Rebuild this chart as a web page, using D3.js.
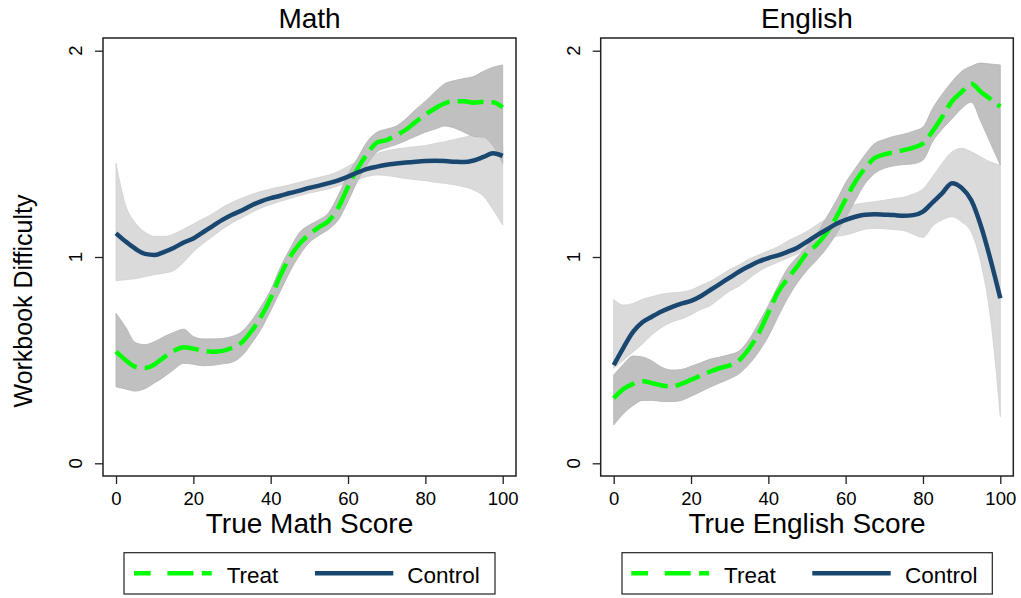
<!DOCTYPE html>
<html>
<head>
<meta charset="utf-8">
<script src="https://cdn.jsdelivr.net/npm/d3@7"></script>
<style>
  html, body { margin: 0; padding: 0; background: #fff; }
  svg { display: block; }
  text { font-family: "Liberation Sans", Arial, Helvetica, sans-serif; fill: #000; }
</style>
</head>
<body>
<svg id="chart" width="1021" height="598"></svg>
<script>
// ---- Data ----
const scores = [0,2.5,5,7.5,10,12.5,15,17.5,20,22.5,25,27.5,30,32.5,35,37.5,40,42.5,45,47.5,50,52.5,55,57.5,60,62.5,65,67.5,70,72.5,75,77.5,80,82.5,85,87.5,90,92.5,95,97.5,100];
const xTicks = [0,20,40,60,80,100];
const yTicks = [0,1,2];
const panelTitles = ["Math", "English"];
const xTitles = ["True Math Score", "True English Score"];
const yTitle = "Workbook Difficulty";
const seriesNames = ["Treat", "Control"];

// Math panel
const mathTreat   = [0.541,0.50,0.468,0.462,0.48,0.515,0.545,0.562,0.556,0.545,0.541,0.545,0.56,0.585,0.64,0.71,0.80,0.91,1.0,1.065,1.11,1.145,1.175,1.24,1.34,1.43,1.50,1.555,1.567,1.59,1.618,1.655,1.69,1.72,1.745,1.755,1.755,1.748,1.752,1.75,1.726];
const mathTreatLo = [0.371,0.36,0.35,0.362,0.39,0.42,0.455,0.485,0.48,0.473,0.475,0.482,0.49,0.52,0.58,0.65,0.74,0.835,0.93,1.01,1.07,1.105,1.135,1.18,1.27,1.37,1.45,1.51,1.53,1.545,1.565,1.585,1.605,1.62,1.635,1.625,1.605,1.585,1.58,1.54,1.454];
const mathTreatHi = [0.727,0.66,0.585,0.575,0.59,0.615,0.635,0.65,0.615,0.603,0.603,0.605,0.615,0.638,0.69,0.76,0.84,0.95,1.04,1.12,1.155,1.18,1.215,1.30,1.40,1.48,1.56,1.605,1.62,1.635,1.67,1.715,1.755,1.80,1.84,1.855,1.865,1.875,1.90,1.92,1.931];
const mathCtrl    = [1.115,1.075,1.04,1.015,1.01,1.025,1.045,1.07,1.09,1.12,1.15,1.18,1.205,1.225,1.25,1.27,1.285,1.297,1.31,1.322,1.335,1.346,1.358,1.372,1.39,1.41,1.427,1.438,1.447,1.453,1.458,1.462,1.465,1.466,1.465,1.462,1.46,1.468,1.485,1.503,1.49];
const mathCtrlLo  = [0.885,0.89,0.895,0.905,0.915,0.922,0.935,0.975,1.025,1.065,1.10,1.135,1.165,1.19,1.215,1.238,1.255,1.27,1.284,1.297,1.31,1.32,1.33,1.345,1.36,1.375,1.39,1.398,1.395,1.388,1.38,1.375,1.37,1.362,1.357,1.35,1.34,1.325,1.295,1.23,1.155];
const mathCtrlHi  = [1.454,1.25,1.165,1.12,1.10,1.10,1.112,1.135,1.16,1.185,1.21,1.24,1.265,1.285,1.303,1.318,1.33,1.34,1.35,1.362,1.375,1.386,1.397,1.415,1.44,1.465,1.485,1.502,1.515,1.523,1.53,1.535,1.54,1.55,1.559,1.57,1.58,1.59,1.575,1.56,1.543];

// English panel
const engTreat   = [0.315,0.36,0.385,0.398,0.388,0.377,0.372,0.385,0.405,0.425,0.445,0.462,0.475,0.50,0.555,0.63,0.73,0.83,0.895,0.955,1.02,1.06,1.115,1.19,1.28,1.365,1.43,1.48,1.497,1.508,1.518,1.53,1.55,1.61,1.68,1.755,1.80,1.84,1.80,1.765,1.729];
const engTreatLo = [0.186,0.24,0.28,0.305,0.305,0.30,0.299,0.305,0.325,0.347,0.37,0.39,0.41,0.435,0.48,0.54,0.615,0.71,0.80,0.875,0.935,0.985,1.04,1.11,1.19,1.275,1.355,1.405,1.43,1.442,1.448,1.452,1.47,1.56,1.62,1.67,1.72,1.75,1.655,1.55,1.446];
const engTreatHi = [0.428,0.48,0.52,0.515,0.495,0.465,0.452,0.455,0.47,0.487,0.505,0.515,0.527,0.545,0.60,0.68,0.765,0.86,0.945,1.0,1.05,1.11,1.19,1.27,1.36,1.43,1.495,1.55,1.57,1.585,1.595,1.61,1.63,1.72,1.79,1.85,1.90,1.925,1.94,1.935,1.931];
const engCtrl    = [0.476,0.56,0.637,0.685,0.712,0.737,0.757,0.774,0.787,0.81,0.84,0.87,0.90,0.93,0.955,0.978,0.995,1.008,1.025,1.045,1.074,1.105,1.132,1.16,1.18,1.195,1.205,1.207,1.205,1.203,1.20,1.203,1.22,1.265,1.31,1.358,1.335,1.275,1.15,0.985,0.80];
const engCtrlLo  = [0.46,0.50,0.54,0.58,0.625,0.66,0.685,0.70,0.72,0.745,0.765,0.80,0.835,0.86,0.895,0.93,0.955,0.975,0.995,1.015,1.04,1.066,1.085,1.10,1.107,1.12,1.135,1.139,1.137,1.133,1.128,1.11,1.095,1.15,1.18,1.195,1.17,1.12,0.97,0.70,0.226];
const engCtrlHi  = [0.794,0.767,0.775,0.795,0.808,0.82,0.826,0.83,0.84,0.862,0.882,0.91,0.94,0.962,0.99,1.01,1.03,1.05,1.078,1.10,1.125,1.155,1.185,1.215,1.24,1.255,1.262,1.268,1.275,1.283,1.29,1.305,1.33,1.39,1.455,1.51,1.527,1.51,1.485,1.46,1.446];

// ---- Styles / layout ----
const GREEN = "#00ff00", NAVY = "#1a476f";
const TREAT_CI = "#c0c0c0", CTRL_CI = "#dadada";
const FONT = "'Liberation Sans', Arial, Helvetica, sans-serif";

const svg = d3.select("#chart");
svg.append("rect").attr("width", 1021).attr("height", 598).attr("fill", "#fff");

const panels = [
  { frame: [103, 516], xr: [116, 502.7], treat: mathTreat, tLo: mathTreatLo, tHi: mathTreatHi, ctrl: mathCtrl, cLo: mathCtrlLo, cHi: mathCtrlHi, tickLabX: 82,
    legend: { box: [124, 495], tl: [134, 211.7], tt: 226.7, cl: [315, 393.3], ct: 407.3 } },
  { frame: [600.7, 1013.3], xr: [613.7, 1000.3], treat: engTreat, tLo: engTreatLo, tHi: engTreatHi, ctrl: engCtrl, cLo: engCtrlLo, cHi: engCtrlHi, tickLabX: 579.5,
    legend: { box: [622, 992.3], tl: [631.3, 709.3], tt: 724, cl: [812.3, 890.7], ct: 905 } }
];
const frameTop = 38, frameBottom = 476;

panels.forEach((p, i) => {
  const x = d3.scaleLinear().domain([0, 100]).range(p.xr);
  const y = d3.scaleLinear().domain([0, 2]).range([463.3, 50.7]);
  const g = svg.append("g");

  const area = (lo, hi) => d3.area()
    .x((d, k) => x(scores[k]))
    .y0((d, k) => y(lo[k]))
    .y1((d, k) => y(hi[k]))
    .curve(d3.curveMonotoneX)(scores);
  const line = (vals) => d3.line()
    .x((d, k) => x(scores[k]))
    .y((d, k) => y(vals[k]))
    .curve(d3.curveMonotoneX)(scores);

  // CI bands
  g.append("path").attr("d", area(p.cLo, p.cHi)).attr("fill", CTRL_CI).attr("stroke", "#d0d0d0").attr("stroke-width", 0.8);
  g.append("path").attr("d", area(p.tLo, p.tHi)).attr("fill", TREAT_CI).attr("stroke", "#b3b3b3").attr("stroke-width", 0.8);

  // Lines
  g.append("path").attr("d", line(p.treat)).attr("fill", "none").attr("stroke", GREEN)
    .attr("stroke-width", 4.5).attr("stroke-dasharray", "26,8");
  g.append("path").attr("d", line(p.ctrl)).attr("fill", "none").attr("stroke", NAVY)
    .attr("stroke-width", 4.5).attr("stroke-linejoin", "round");

  // Frame
  g.append("rect").attr("x", p.frame[0]).attr("y", frameTop)
    .attr("width", p.frame[1] - p.frame[0]).attr("height", frameBottom - frameTop)
    .attr("fill", "none").attr("stroke", "#222").attr("stroke-width", 1.5);

  // X axis
  const xa = g.append("g").attr("transform", `translate(0,${frameBottom})`)
    .call(d3.axisBottom(x).tickValues(xTicks).tickSize(8).tickPadding(8).tickFormat(d3.format("d")));
  xa.select(".domain").remove();
  xa.selectAll("line").attr("stroke", "#222").attr("stroke-width", 1.3);
  xa.selectAll("text").attr("font-size", "18.5px").attr("font-family", FONT).attr("fill", "#000");

  // Y axis
  const ya = g.append("g").attr("transform", `translate(${p.frame[0]},0)`)
    .call(d3.axisLeft(y).tickValues(yTicks).tickSize(8).tickFormat(d3.format("d")));
  ya.select(".domain").remove();
  ya.selectAll("line").attr("stroke", "#222").attr("stroke-width", 1.3);
  ya.selectAll("text").remove();
  g.selectAll(".ylab").data(yTicks).enter().append("text")
    .attr("transform", d => `translate(${p.tickLabX},${y(d)}) rotate(-90)`)
    .attr("text-anchor", "middle").attr("font-size", "18.5px").text(d => d);

  // Titles
  const cx = (p.frame[0] + p.frame[1]) / 2;
  g.append("text").attr("x", cx).attr("y", 28.3).attr("text-anchor", "middle")
    .attr("font-size", "28px").text(panelTitles[i]);
  g.append("text").attr("x", cx).attr("y", 533).attr("text-anchor", "middle")
    .attr("font-size", "28px").text(xTitles[i]);

  // Legend
  const L = p.legend, ly = 573.3;
  g.append("rect").attr("x", L.box[0]).attr("y", 552.7).attr("width", L.box[1] - L.box[0]).attr("height", 41.3)
    .attr("fill", "#fff").attr("stroke", "#222").attr("stroke-width", 1.2);
  g.append("line").attr("x1", L.tl[0]).attr("x2", L.tl[1]).attr("y1", ly).attr("y2", ly)
    .attr("stroke", GREEN).attr("stroke-width", 4.5).attr("stroke-dasharray", "16.7,16.7,26,8.4,10,100");
  g.append("text").attr("x", L.tt).attr("y", 583.3).attr("font-size", "22.5px").text(seriesNames[0]);
  g.append("line").attr("x1", L.cl[0]).attr("x2", L.cl[1]).attr("y1", ly).attr("y2", ly)
    .attr("stroke", NAVY).attr("stroke-width", 4.5);
  g.append("text").attr("x", L.ct).attr("y", 583.3).attr("font-size", "22.5px").text(seriesNames[1]);
});

// Shared y title
svg.append("text").attr("transform", "translate(31.5,301) rotate(-90)")
  .attr("text-anchor", "middle").attr("font-size", "25px").text(yTitle);
</script>
</body>
</html>
